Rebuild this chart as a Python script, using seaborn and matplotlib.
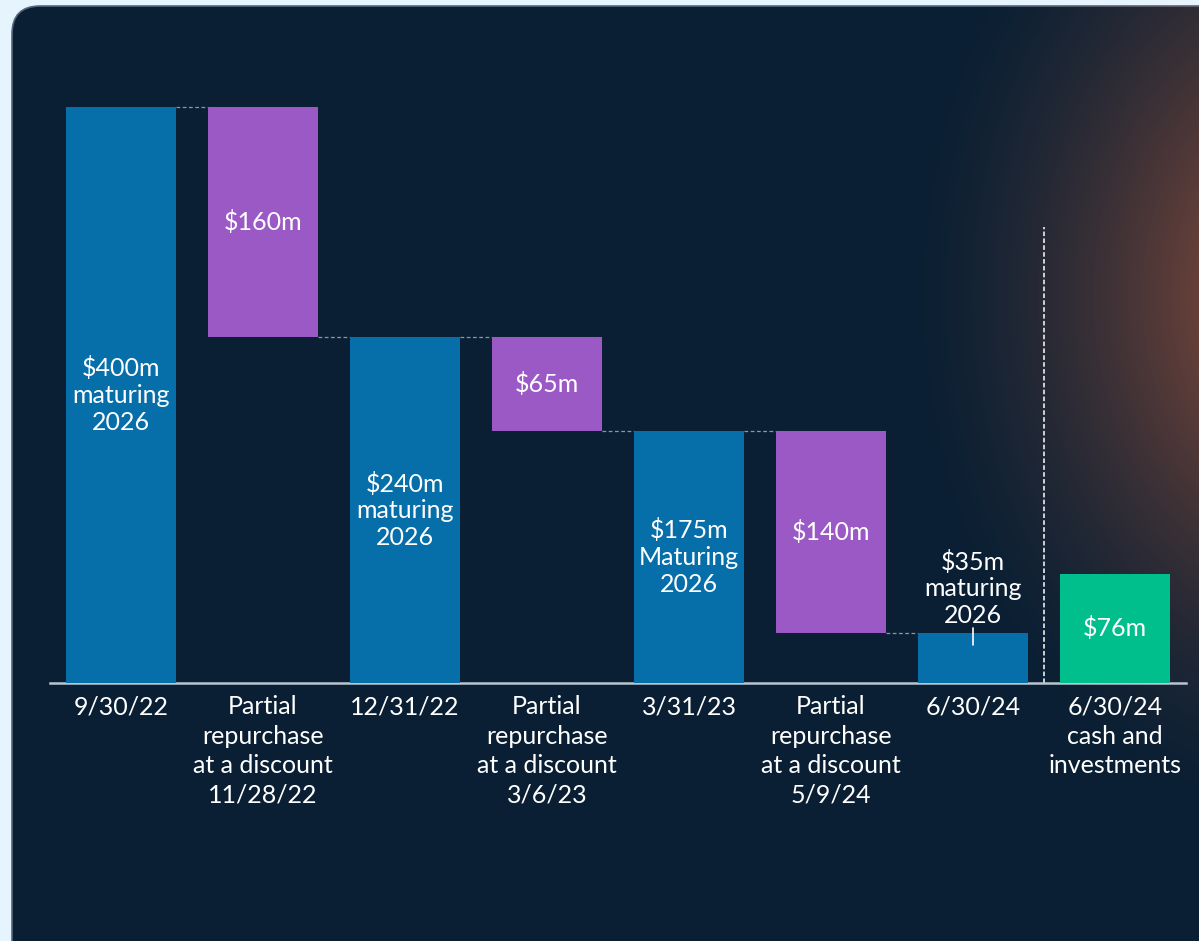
import numpy as np
import pandas as pd
import seaborn as sns
import matplotlib.pyplot as plt
from matplotlib.patches import FancyBboxPatch

# chart values
labels = ["9/30/22",
          "Partial\nrepurchase\nat a discount\n11/28/22",
          "12/31/22",
          "Partial\nrepurchase\nat a discount\n3/6/23",
          "3/31/23",
          "Partial\nrepurchase\nat a discount\n5/9/24",
          "6/30/24",
          "6/30/24\ncash and\ninvestments"]
heights = [400, 160, 240, 65, 175, 140, 35, 76]
bottoms = [0, 240, 0, 175, 0, 35, 0, 0]
kinds = ["debt", "repurchase", "debt", "repurchase", "debt", "repurchase", "debt", "cash"]
bar_text = ["$400m\nmaturing\n2026", "$160m", "$240m\nmaturing\n2026", "$65m",
            "$175m\nMaturing\n2026", "$140m", "$35m\nmaturing\n2026", "$76m"]

colors = {"debt": "#066EA8", "repurchase": "#9B59C6", "cash": "#00BF8C"}
panel = "#0A1F33"

df = pd.DataFrame({"label": labels, "height": heights, "bottom": bottoms, "kind": kinds})

sns.set_style("dark")
plt.rcParams["font.family"] = ["Lato", "DejaVu Sans"]

W, H = 1199, 941
fig = plt.figure(figsize=(W / 100, H / 100), dpi=100, facecolor="#E6F4FD")

# background panel with glow
bg = fig.add_axes([0, 0, 1, 1])
bg.set_xlim(0, W)
bg.set_ylim(H, 0)
bg.axis("off")
box = FancyBboxPatch((12, 6), W + 40, H + 40, boxstyle="round,pad=0,rounding_size=28",
                     facecolor=panel, edgecolor="#56677a", linewidth=1.2)
bg.add_patch(box)
yy, xx = np.mgrid[0:H, 0:W]
d = np.sqrt((xx - 1320) ** 2 + ((yy - 295) / 1.3) ** 2)
a = np.clip(1 - d / 420, 0, 1) ** 1.5 * 0.85
glow = np.zeros((H, W, 4))
glow[..., 0] = 0.75
glow[..., 1] = 0.38
glow[..., 2] = 0.25
glow[..., 3] = a
im = bg.imshow(glow, extent=(0, W, H, 0), aspect="auto", zorder=2)
im.set_clip_path(box)

# main chart
ax = fig.add_axes([50 / W, 1 - 683 / H, 1136 / W, 623 / H])
ax.patch.set_alpha(0)
sns.barplot(data=df, x="label", y="height", bottom=df["bottom"], width=0.775,
            color=colors["debt"], saturation=1, ax=ax, zorder=3)
for p, k in zip(ax.patches, kinds):
    p.set_facecolor(colors[k])
    p.set_edgecolor("none")

ax.set_xlim(-0.5, 7.5)
ax.set_ylim(0, 623 / 1.44)
ax.set_xlabel("")
ax.set_ylabel("")
ax.set_yticks([])
ax.grid(False)
for s in ["top", "right", "left"]:
    ax.spines[s].set_visible(False)
ax.spines["bottom"].set_color("#B9C6D0")
ax.spines["bottom"].set_linewidth(1.8)
ax.tick_params(axis="x", length=0, pad=9, colors="white", labelsize=18)
for t in ax.get_xticklabels():
    t.set_linespacing(1.33)

# connector lines
tops = [h + b for h, b in zip(heights, bottoms)]
half = 0.775 / 2
for i in range(6):
    level = tops[i] if kinds[i] == "debt" else bottoms[i]
    ax.plot([i + half, i + 1 - half], [level, level], ls=(0, (3, 2)), lw=0.9,
            color="#8A97A3", zorder=2)

# bar labels
for i, txt in enumerate(bar_text):
    if i == 6:
        ax.text(i, tops[i] + 4, txt, ha="center", va="bottom", color="white",
                fontsize=18, linespacing=1.19, zorder=4)
        ax.plot([i, i], [26.5, 38], color="white", lw=1.2, zorder=4)
    else:
        ax.text(i, bottoms[i] + heights[i] / 2, txt, ha="center", va="center",
                color="white", fontsize=18, linespacing=1.19, zorder=4)

# divider before cash
ax.plot([6.5, 6.5], [0, 317], ls=(0, (3, 1.5)), lw=1.1, color="white", zorder=2)

fig.savefig("out.png", dpi=100, facecolor=fig.get_facecolor())
